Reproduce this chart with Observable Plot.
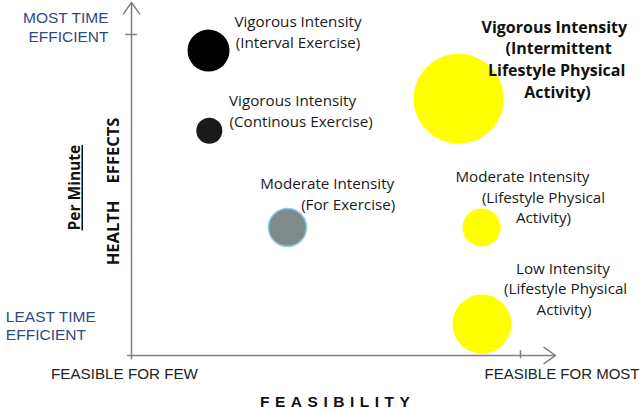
<!DOCTYPE html>
<html>
<head>
<meta charset="utf-8">
<script src="https://cdn.jsdelivr.net/npm/d3@7"></script>
<script src="https://cdn.jsdelivr.net/npm/@observablehq/plot@0.6"></script>
<style>
  html, body { margin: 0; padding: 0; background: #fff; }
  #chart { width: 643px; height: 410px; overflow: hidden; }
</style>
</head>
<body>
<div id="chart"></div>
<script>
// ---- data ----
const activities = [
  "Vigorous Intensity (Interval Exercise)",
  "Vigorous Intensity (Continous Exercise)",
  "Moderate Intensity (For Exercise)",
  "Vigorous Intensity (Intermittent Lifestyle Physical Activity)",
  "Moderate Intensity (Lifestyle Physical Activity)",
  "Low Intensity (Lifestyle Physical Activity)"
];
const feasibility = [19.8, 20, 40.1, 84.1, 90, 90.1];       // x: feasible for few -> most
const healthPerMinute = [95, 70, 39.9, 80, 39.9, 9.8];      // y: least -> most time efficient
const bubbleSize = [21, 13, 19, 45, 19, 29.5];

// label lines (annotation text)
const labelLines = [
  "Vigorous Intensity", "(Interval Exercise)",
  "Vigorous Intensity", "(Continous Exercise)",
  "Moderate Intensity", "(For Exercise)",
  "Vigorous Intensity", "(Intermittent", "Lifestyle Physical", "Activity)",
  "Moderate Intensity", "(Lifestyle Physical", "Activity)",
  "Low Intensity", "(Lifestyle Physical", "Activity)"
];
const labelX = [42.8, 42.8, 41.4, 43.6, 50.3, 55.7, 108.7, 109.8, 109.3, 109.5, 100.5, 105.9, 105.9, 110.9, 111.6, 111.2];
const labelY = [103.7, 97.2, 79.4, 72.6, 53.3, 47.0, 102.2, 95.6, 88.8, 81.9, 55.5, 48.9, 42.7, 26.8, 20.6, 14.0];
const labelBold = [false, false, false, false, false, false, true, true, true, true, false, false, false, false, false, false];

const yTickLabels = ["MOST TIME\nEFFICIENT", "LEAST TIME\nEFFICIENT"];
const xTickLabels = ["FEASIBLE FOR FEW", "FEASIBLE FOR MOST"];
const xTitle = "FEASIBILITY";
const yTitle = "HEALTH\u00a0\u00a0\u00a0\u00a0EFFECTS";
const ySubTitle = "Per Minute";

// ---- styles ----
const bubbleColors = ["#000000", "#1a1a1a", "#808a8b", "#ffff00", "#ffff00", "#ffff00"];

const bubbles = activities.map((a, i) => ({
  name: a, x: feasibility[i], y: healthPerMinute[i], size: bubbleSize[i]
}));
const labels = labelLines.map((t, i) => ({ text: t, x: labelX[i], y: labelY[i], bold: labelBold[i] }));

const axisColor = "#7f7f7f";
const blue = "#2f4a7e";

const plot = Plot.plot({
  width: 643,
  height: 410,
  x: { domain: [0, 100], range: [131, 520], axis: null },
  y: { domain: [0, 100], range: [355, 34], axis: null },
  r: { type: "identity" },
  color: { domain: activities, range: bubbleColors },
  style: { fontFamily: "'Open Sans', sans-serif", background: "white", overflow: "visible" },
  marks: [
    // axes with arrows
    Plot.arrow([{ x1: -1, y1: 0, x2: 109, y2: 0 }], {
      x1: "x1", y1: "y1", x2: "x2", y2: "y2", stroke: axisColor, strokeWidth: 1.5,
      headLength: 14, headAngle: 70, bend: 0
    }),
    Plot.arrow([{ x1: 0, y1: -1, x2: 0, y2: 110 }], {
      x1: "x1", y1: "y1", x2: "x2", y2: "y2", stroke: axisColor, strokeWidth: 1.5,
      headLength: 14, headAngle: 70, bend: 0
    }),
    Plot.ruleY([100], { x1: -1.5, x2: 1.5, stroke: axisColor, strokeWidth: 1.5 }),
    Plot.ruleX([100], { y1: -1, y2: 1.5, stroke: axisColor, strokeWidth: 1.5 }),
    // bubbles
    Plot.dot(bubbles, { x: "x", y: "y", r: "size", fill: "name", stroke: null }),
    Plot.dot(bubbles.filter(d => d.name === activities[2]), {
      x: "x", y: "y", r: "size", fill: "none", stroke: "#8ccaf0", strokeWidth: 1.5
    }),
    // annotations
    Plot.text(labels.filter(d => !d.bold), {
      x: "x", y: "y", text: "text", fontSize: 15.2, fill: "#1a1a1a", textAnchor: "middle"
    }),
    Plot.text(labels.filter(d => d.bold), {
      x: "x", y: "y", text: "text", fontSize: 16, fontWeight: "bold", fill: "#111", textAnchor: "middle"
    }),
    // axis labels
    Plot.text([yTickLabels[0]], {
      x: -5.9, y: 102.5, text: d => d, textAnchor: "end", fontSize: 15.5, lineHeight: 1.2,
      fill: blue, fontFamily: "'Liberation Sans', Arial, sans-serif"
    }),
    Plot.text([yTickLabels[1]], {
      x: -32.3, y: 9.5, text: d => d, textAnchor: "start", fontSize: 15.5, lineHeight: 1.2,
      fill: blue, fontFamily: "'Liberation Sans', Arial, sans-serif"
    }),
    Plot.text([xTickLabels[0]], {
      x: -1.8, y: -5.9, text: d => d, fontSize: 15.2, fill: "#222",
      fontFamily: "'Liberation Sans', Arial, sans-serif"
    }),
    Plot.text([xTickLabels[1]], {
      x: 130.6, y: -5.9, text: d => d, fontSize: 15, fill: "#222", textAnchor: "end",
      fontFamily: "'Liberation Sans', Arial, sans-serif"
    }),
    Plot.text([xTitle], {
      x: 53, y: -14.4, text: d => d, fontSize: 15.5, fontWeight: "bold", fill: "#111",
      fontFamily: "'Liberation Sans', Arial, sans-serif"
    }),
    Plot.text([yTitle], {
      x: -4.6, y: 51.1, text: d => d, rotate: -90, fontSize: 16.5, fontWeight: "bold", fill: "#111"
    }),
    Plot.text([ySubTitle], {
      x: -14.4, y: 52.3, text: d => d, rotate: -90, fontSize: 15.5, fontWeight: "bold", fill: "#111"
    })
  ]
});

d3.select(plot).selectAll("text")
  .filter(function() { return this.textContent === ySubTitle; })
  .style("text-decoration", "underline");
d3.select(plot).selectAll("text")
  .filter(function() { return this.textContent === xTitle; })
  .style("letter-spacing", "5.5px");

document.getElementById("chart").appendChild(plot);
</script>
</body>
</html>
